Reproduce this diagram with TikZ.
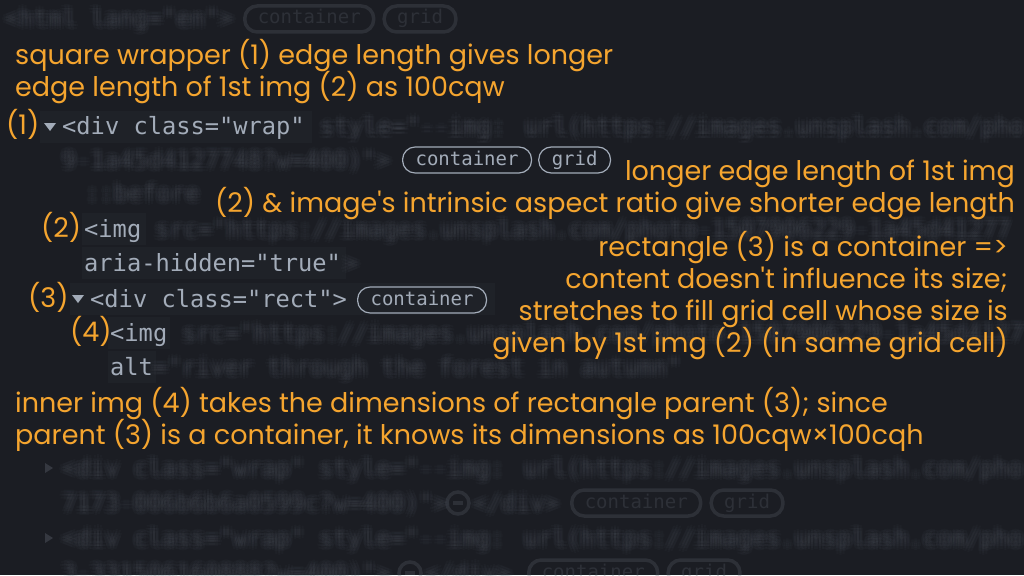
\documentclass[tikz,border=0pt]{standalone}
\usepackage{fontspec}
\newfontfamily\codefont{DejaVu Sans Mono}
\newfontfamily\notefont{Poppins}
\usetikzlibrary{positioning,shapes.geometric}
\definecolor{bgcol}{HTML}{1B1D23}
\definecolor{bandcol}{HTML}{1F2228}
\definecolor{codecol}{HTML}{A3ACB9}
\definecolor{fogcol}{HTML}{5C626D}
\definecolor{notecol}{HTML}{F5A52F}
\tikzset{x=1pt, y=-1pt}
\tikzstyle{code}=[inner sep=0pt, anchor=base west, text=codecol, font={\codefont\fontsize{23.7}{26}\selectfont}]
\tikzstyle{fog}=[code, text=fogcol, opacity=0.06]
\tikzstyle{tag}=[draw=codecol, line width=1.2pt, rounded corners=12.5pt, inner xsep=13pt, inner ysep=0pt, minimum height=26pt, text height=13pt, text depth=3pt, text=codecol, anchor=west, font={\codefont\fontsize{19}{21}\selectfont}]
\tikzstyle{fogtag}=[tag, draw=fogcol, text=fogcol, line width=3.5pt, opacity=0.28]
\tikzstyle{note}=[inner sep=0pt, text=notecol, font={\notefont\fontsize{27}{32}\selectfont}]
\tikzstyle{lnote}=[note, anchor=base west]
\tikzstyle{rnote}=[note, anchor=base east]
% blurred code: the same text many times, slightly shifted
\newcommand\haze[4]{%
  \foreach \dx/\dy [count=\k] in {0/0,-4/0,4/0,0/-4,0/4,-3/-3,3/3,-3/3,3/-3,-2/0,2/0,0/-2,0/2}
    \node[fog] (#1-\k) at (#2+\dx,#3+\dy) {#4};}
\newcommand\hazecircle[3]{%
  \node[circle, draw=fogcol, line width=3.5pt, opacity=0.28, minimum size=22pt, inner sep=0pt] (#1) at (#2,#3) {};
  \draw[fogcol, line width=3.5pt, opacity=0.28] ([xshift=-5pt]#1.center) -- ([xshift=5pt]#1.center);}

\begin{document}
\begin{tikzpicture}
\fill[bgcol] (0,0) rectangle (1024,575);
\useasboundingbox (0,0) rectangle (1024,575);
% lighter bands behind the readable code
\fill[bandcol] (40,111) rectangle (312,143);
\fill[bandcol] (82,213) rectangle (146,245);
\fill[bandcol] (82,247) rectangle (346,279);
\fill[bandcol] (70,283) rectangle (495,315);
\fill[bandcol] (108,317) rectangle (170,349);
\fill[bandcol] (108,351) rectangle (156,383);

% blurred rows at the top
\haze{html}{5}{27}{<html lang="en">}
\node[fogtag] (htmlc) at (243,19) {container};
\node[fogtag] (htmlg) [right=7pt of htmlc] {grid};

% row 1: wrapper
\node[lnote] (n1) at (6,135) {(1)};
\fill[codecol] (44,123) -- (56,123) -- (50,131) -- cycle;
\node[code] (wrap) at (62,135) {<div class="wrap"};
\haze{wrapfog}{320}{135}{style="-\kern0pt-img: url(https://images.unsplash.com/pho}
\haze{wrapend}{62}{168}{9-1a45d4127748?w=400)">}
\node[tag] (wrapc) at (402,160) {container};
\node[tag] (wrapg) [right=6pt of wrapc] {grid};
\haze{before}{85}{201}{::before}

% row 2: first img
\node[lnote] (n2) at (41,237) {(2)};
\node[code] (img1) at (84,237) {<img};
\haze{img1src}{155}{237}{src="https://images.unsplash.com/photo-1507906229-1a45d41277}
\node[code] (aria) at (84,271) {aria-hidden="true"};
\haze{ariaend}{344}{271}{>}

% row 3: rectangle
\node[lnote] (n3) at (28,307) {(3)};
\fill[codecol] (72,295) -- (84,295) -- (78,303) -- cycle;
\node[code] (rect) at (90,307) {<div class="rect">};
\node[tag] (rectc) at (357,300) {container};

% row 4: inner img
\node[lnote] (n4) at (70,341) {(4)};
\node[code] (img2) at (110,341) {<img};
\haze{img2src}{182}{341}{src="https://images.unsplash.com/photo-1507906229-1a45d41277}
\node[code] (alt) at (110,375) {alt};
\haze{altval}{153}{375}{="river through the forest in autumn"}

% blurred rows at the bottom
\fill[fogcol, opacity=0.4] (45,463) -- (53,468) -- (45,473) -- cycle;
\haze{wrapb}{62}{476}{<div class="wrap" style="-\kern0pt-img: url(https://images.unsplash.com/pho}
\haze{wrapbend}{62}{511}{7173-006b6b6a0599c?w=400)">}
\hazecircle{minb}{458}{503}
\haze{divb}{473}{511}{</div>}
\node[fogtag] (wrapbc) at (570,503) {container};
\node[fogtag] (wrapbg) [right=7pt of wrapbc] {grid};
\fill[fogcol, opacity=0.4] (45,533) -- (53,538) -- (45,543) -- cycle;
\haze{wrapc}{62}{546}{<div class="wrap" style="-\kern0pt-img: url(https://images.unsplash.com/pho}
\haze{wrapcend}{62}{581}{3-331506160888?w=400)">}
\hazecircle{minc}{410}{573}
\haze{divc}{425}{581}{</div>}
\node[fogtag] (wrapcc) at (527,573) {container};
\node[fogtag] (wrapcg) [right=7pt of wrapcc] {grid};

% notes
\node[lnote] (sq1) at (15,65) {square wrapper (1) edge length gives longer};
\node[lnote] (sq2) at (15,97) {edge length of 1st img (2) as 100cqw};
\node[rnote] (lg1) at (1015,180) {longer edge length of 1st img};
\node[rnote] (lg2) at (1015,212) {(2) \& image's intrinsic aspect ratio give shorter edge length};
\node[rnote] (rc1) at (1008,256) {rectangle (3) is a container =>};
\node[rnote] (rc2) at (1008,288) {content doesn't influence its size;};
\node[rnote] (rc3) at (1008,320) {stretches to fill grid cell whose size is};
\node[rnote] (rc4) at (1008,352) {given by 1st img (2) (in same grid cell)};
\node[lnote] (in1) at (15,412) {inner img (4) takes the dimensions of rectangle parent (3); since};
\node[lnote] (in2) at (15,444) {parent (3) is a container, it knows its dimensions as 100cqw×100cqh};
\end{tikzpicture}
\end{document}
